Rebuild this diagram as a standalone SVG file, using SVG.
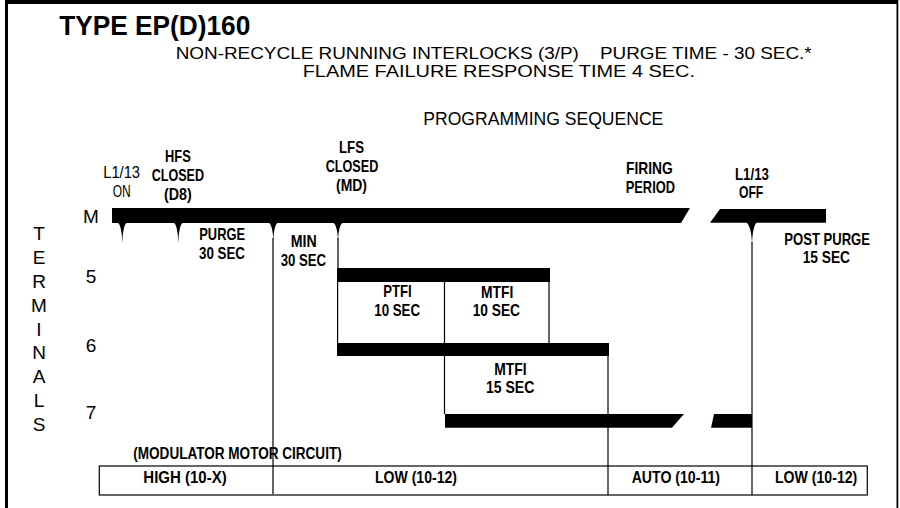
<svg xmlns="http://www.w3.org/2000/svg" width="900" height="508" viewBox="0 0 900 508">
<style>
.b{font-family:"Liberation Sans",Arial,sans-serif;font-weight:bold;font-size:16.5px;fill:#000}
.r{font-family:"Liberation Sans",Arial,sans-serif;font-size:16.5px;fill:#000}
.h{font-family:"Liberation Sans",Arial,sans-serif;font-size:18px;fill:#000}
.t{font-family:"Liberation Sans",Arial,sans-serif;font-size:19px;fill:#000;text-anchor:middle}
.ln{stroke:#000;stroke-width:1.2;fill:none}
.bar{fill:#000}
</style>
<rect width="900" height="508" fill="#fff"/>
<g id="frame">
<rect x="5" y="0" width="893" height="4" fill="#000"/>
<rect x="5" y="0" width="3" height="508" fill="#000"/>
<rect x="896.5" y="0" width="1.8" height="508" fill="#000"/>
</g>
<g id="header">
<text x="59.3" y="35" style="font-family:'Liberation Sans',Arial,sans-serif;font-weight:bold;font-size:27.5px" textLength="191" lengthAdjust="spacingAndGlyphs">TYPE EP(D)160</text>
<text class="r" x="175.7" y="58.5" xml:space="preserve" style="white-space:pre" textLength="636" lengthAdjust="spacingAndGlyphs">NON-RECYCLE RUNNING INTERLOCKS (3/P)    PURGE TIME - 30 SEC.*</text>
<text class="r" x="302.7" y="77" textLength="392.3" lengthAdjust="spacingAndGlyphs">FLAME FAILURE RESPONSE TIME 4 SEC.</text>
<text class="h" x="423.3" y="125" textLength="240" lengthAdjust="spacingAndGlyphs">PROGRAMMING SEQUENCE</text>
</g>
<g id="terminals-label">
<text class="t" x="39" y="240">T</text>
<text class="t" x="39" y="263.9">E</text>
<text class="t" x="39" y="287.8">R</text>
<text class="t" x="39" y="311.6">M</text>
<text class="t" x="39" y="335.5">I</text>
<text class="t" x="39" y="359.4">N</text>
<text class="t" x="39" y="383.3">A</text>
<text class="t" x="39" y="407.1">L</text>
<text class="t" x="39" y="431">S</text>
</g>
<g id="terminal-numbers">
<text class="t" x="91" y="222.7">M</text>
<text class="t" x="91" y="282.7">5</text>
<text class="t" x="91" y="351.7">6</text>
<text class="t" x="91" y="419.3">7</text>
</g>
<g id="connectors">
<line class="ln" x1="273" y1="238" x2="273" y2="494"/>
<line class="ln" x1="338" y1="238" x2="338" y2="268"/>
<line class="ln" x1="337.6" y1="282" x2="337.6" y2="343"/>
<line class="ln" x1="444.5" y1="282" x2="444.5" y2="414"/>
<line class="ln" x1="549" y1="282" x2="549" y2="343"/>
<line class="ln" x1="608" y1="356" x2="608" y2="495"/>
<line class="ln" x1="752" y1="242" x2="752" y2="495"/>
</g>
<g id="bar-M">
<path class="bar" d="M112,208 H690 L681,223 H112 Z"/>
<path class="bar" d="M720,209 H826 V222.7 H710 Z"/>
<path class="bar" d="M117.5,222 Q122,226 122.3,243 Q122.6,226 127,222 Z"/>
<path class="bar" d="M173.5,222 Q178,226 178.3,243 Q178.6,226 183,222 Z"/>
<path class="bar" d="M268.5,222 Q273,226 273.3,241 Q273.6,226 278,222 Z"/>
<path class="bar" d="M333,222 Q337.6,226 338,241 Q338.3,226 343,222 Z"/>
<path class="bar" d="M746,222 Q751.5,226 752,245 Q752.5,226 757,222 Z"/>
</g>
<g id="bar-5"><rect class="bar" x="337" y="268" width="213" height="14"/></g>
<g id="bar-6"><rect class="bar" x="337" y="343" width="272" height="13"/></g>
<g id="bar-7">
<path class="bar" d="M445,414 H684 L672,427.7 H445 Z"/>
<path class="bar" d="M714,414 H752 V427.7 H711 Z"/>
</g>
<g id="ev-l113-on">
<text class="r" x="103.3" y="178" textLength="36.7" lengthAdjust="spacingAndGlyphs">L1/13</text>
<text class="r" x="112.7" y="197" textLength="18" lengthAdjust="spacingAndGlyphs">ON</text>
</g>
<g id="ev-hfs">
<text class="b" x="165" y="161.5" textLength="25.7" lengthAdjust="spacingAndGlyphs">HFS</text>
<text class="b" x="151.7" y="180.5" textLength="52.3" lengthAdjust="spacingAndGlyphs">CLOSED</text>
<text class="b" x="164" y="199.5" textLength="27.7" lengthAdjust="spacingAndGlyphs">(D8)</text>
</g>
<g id="ev-purge">
<text class="b" x="199.3" y="240" textLength="45.7" lengthAdjust="spacingAndGlyphs">PURGE</text>
<text class="b" x="199" y="259" textLength="46" lengthAdjust="spacingAndGlyphs">30 SEC</text>
</g>
<g id="ev-min">
<text class="b" x="290.7" y="246.5" textLength="26" lengthAdjust="spacingAndGlyphs">MIN</text>
<text class="b" x="280.7" y="265.5" textLength="45.3" lengthAdjust="spacingAndGlyphs">30 SEC</text>
</g>
<g id="ev-lfs">
<text class="b" x="339" y="152.5" textLength="25" lengthAdjust="spacingAndGlyphs">LFS</text>
<text class="b" x="325.7" y="171.5" textLength="52.6" lengthAdjust="spacingAndGlyphs">CLOSED</text>
<text class="b" x="336" y="190.5" textLength="31" lengthAdjust="spacingAndGlyphs">(MD)</text>
</g>
<g id="ev-ptfi">
<text class="b" x="383.3" y="297.3" textLength="28.4" lengthAdjust="spacingAndGlyphs">PTFI</text>
<text class="b" x="374.3" y="316" textLength="45.7" lengthAdjust="spacingAndGlyphs">10 SEC</text>
</g>
<g id="ev-mtfi10">
<text class="b" x="481" y="298" textLength="32.3" lengthAdjust="spacingAndGlyphs">MTFI</text>
<text class="b" x="472.7" y="316" textLength="47.3" lengthAdjust="spacingAndGlyphs">10 SEC</text>
</g>
<g id="ev-mtfi15">
<text class="b" x="494.3" y="375" textLength="32.4" lengthAdjust="spacingAndGlyphs">MTFI</text>
<text class="b" x="486" y="392.5" textLength="48.3" lengthAdjust="spacingAndGlyphs">15 SEC</text>
</g>
<g id="ev-firing">
<text class="b" x="626" y="174" textLength="46.7" lengthAdjust="spacingAndGlyphs">FIRING</text>
<text class="b" x="625.7" y="193.3" textLength="49.3" lengthAdjust="spacingAndGlyphs">PERIOD</text>
</g>
<g id="ev-l113-off">
<text class="b" x="735" y="180" textLength="34" lengthAdjust="spacingAndGlyphs">L1/13</text>
<text class="b" x="739" y="198.3" textLength="24.3" lengthAdjust="spacingAndGlyphs">OFF</text>
</g>
<g id="ev-postpurge">
<text class="b" x="784.3" y="245" textLength="85.7" lengthAdjust="spacingAndGlyphs">POST PURGE</text>
<text class="b" x="802.7" y="262.7" textLength="47.3" lengthAdjust="spacingAndGlyphs">15 SEC</text>
</g>
<g id="modulator">
<text class="b" x="133.3" y="459" textLength="208.4" lengthAdjust="spacingAndGlyphs">(MODULATOR MOTOR CIRCUIT)</text>
<rect x="99.3" y="466" width="768" height="29" fill="none" stroke="#000" stroke-width="1.2"/>
<text class="b" x="143.3" y="483" textLength="83.4" lengthAdjust="spacingAndGlyphs">HIGH (10-X)</text>
<text class="b" x="375" y="483" textLength="82" lengthAdjust="spacingAndGlyphs">LOW (10-12)</text>
<text class="b" x="631.7" y="483" textLength="88.3" lengthAdjust="spacingAndGlyphs">AUTO (10-11)</text>
<text class="b" x="775" y="483" textLength="82.3" lengthAdjust="spacingAndGlyphs">LOW (10-12)</text>
</g>
</svg>
